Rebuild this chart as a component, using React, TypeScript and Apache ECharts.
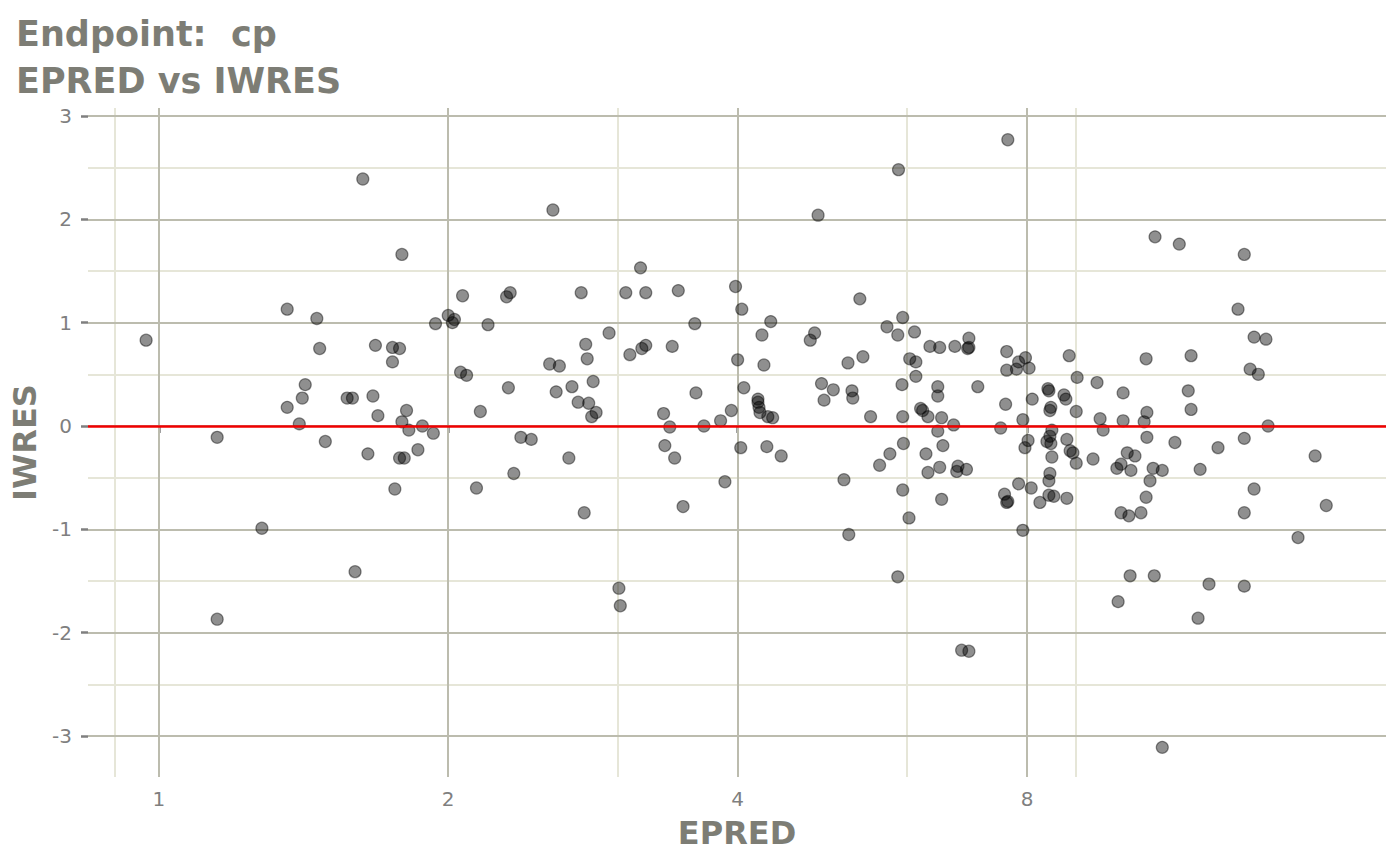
import React, { useEffect, useRef } from 'react'
import * as echarts from 'echarts'

// EPRED (log2 x axis) and IWRES, point by point
const epred = [
  0.97, 1.15, 1.15, 1.28, 1.36, 1.36, 1.4, 1.41, 1.42, 1.46, 1.47, 1.49, 1.57, 1.59, 1.6, 1.63,
  1.65, 1.67, 1.68, 1.69, 1.75, 1.75, 1.76, 1.78, 1.78, 1.79, 1.79, 1.8, 1.81, 1.82, 1.86, 1.88,
  1.93, 1.94, 2.0, 2.03, 2.02, 2.06, 2.07, 2.09, 2.14, 2.16, 2.2, 2.3, 2.31, 2.32, 2.34, 2.38,
  2.44, 2.55, 2.57, 2.59, 2.61, 2.67, 2.69, 2.73, 2.75, 2.77, 2.78, 2.79, 2.8, 2.82, 2.83, 2.85,
  3.17, 3.06, 3.21, 3.47, 3.98, 5.36, 4.04, 3.61, 4.33, 2.94, 4.24, 4.81, 4.76, 3.09, 3.18, 3.21,
  3.42, 4.0, 4.26, 5.21, 4.89, 5.03, 5.26, 5.27, 4.92, 4.06, 3.62, 4.2, 4.2, 4.21, 4.22, 4.3,
  4.35, 3.94, 3.84, 3.69, 3.35, 3.4, 3.36, 3.44, 4.03, 4.29, 4.44, 3.88, 3.51, 5.16,
  3.01, 3.02, 4.85, 5.22, 5.87, 5.88, 6.84, 6.96, 7.64,
  5.94, 5.72, 5.87, 6.11, 5.4, 6.34, 6.49, 6.73, 6.96, 6.94, 6.96, 7.62, 7.97, 7.84, 7.8, 7.62,
  8.04, 8.85, 6.04, 6.13, 6.13, 5.93, 6.46, 6.46, 7.11, 9.02, 9.46, 8.41, 8.43, 8.74, 8.78, 8.1,
  7.6, 8.47, 8.45, 9.0, 6.2, 6.23, 6.31, 6.52, 5.94, 5.5, 6.71, 7.51, 7.92, 8.49, 8.45, 8.39,
  8.47, 8.02, 7.96, 8.8, 6.46, 6.54, 5.95, 5.76, 6.28, 8.87, 8.93, 8.49, 9.0, 9.37, 5.62, 6.49,
  6.78, 6.76, 6.92, 6.31, 8.45, 8.43, 7.84, 8.08, 8.43, 8.53, 8.25, 8.8, 7.58, 7.62, 7.64, 5.94,
  6.52, 6.03, 7.92,
  10.64, 11.85, 10.07, 11.77, 10.66, 11.85, 9.53, 10.07, 10.59, 9.6, 10.66, 11.4, 12.64, 10.17,
  10.36, 10.02, 9.92, 10.26, 10.82, 11.06, 12.11, 10.74, 10.64, 10.02, 10.21, 10.51,
  9.95, 10.24, 10.85, 10.87, 11.06, 11.52, 12.05, 12.37, 13.26, 13.46, 13.46, 13.46, 13.46,
  13.65, 13.78, 13.78, 13.92, 14.18, 14.25, 15.31, 15.95, 16.38,
]

const iwres = [
  0.83, -0.11, -1.87, -0.99, 1.13, 0.18, 0.02, 0.27, 0.4, 1.04, 0.75, -0.15, 0.27, 0.27, -1.41, 2.39,
  -0.27, 0.29, 0.78, 0.1, 0.76, 0.62, -0.61, 0.75, -0.31, 1.66, 0.04, -0.31, 0.15, -0.04, -0.23, 0.0,
  -0.07, 0.99, 1.07, 1.03, 1.0, 0.52, 1.26, 0.49, -0.6, 0.14, 0.98, 1.25, 0.37, 1.29, -0.46, -0.11,
  -0.13, 0.6, 2.09, 0.33, 0.58, -0.31, 0.38, 0.23, 1.29, -0.84, 0.79, 0.65, 0.22, 0.09, 0.43, 0.13,
  1.53, 1.29, 1.29, 1.31, 1.35, 1.23, 1.13, 0.99, 1.01, 0.9, 0.88, 0.9, 0.83, 0.69, 0.75, 0.78,
  0.77, 0.64, 0.59, 0.61, 0.41, 0.35, 0.34, 0.27, 0.25, 0.37, 0.32, 0.26, 0.23, 0.18, 0.13, 0.09,
  0.08, 0.15, 0.05, 0.0, 0.12, -0.01, -0.19, -0.31, -0.21, -0.2, -0.29, -0.54, -0.78, -0.52,
  -1.57, -1.74, 2.04, -1.05, -1.46, 2.48, -2.17, -2.18, 2.77,
  1.05, 0.96, 0.88, 0.91, 0.67, 0.77, 0.76, 0.77, 0.85, 0.75, 0.76, 0.72, 0.66, 0.62, 0.55, 0.54,
  0.56, 0.68, 0.65, 0.62, 0.48, 0.4, 0.38, 0.29, 0.38, 0.47, 0.42, 0.36, 0.34, 0.3, 0.26, 0.26,
  0.21, 0.18, 0.15, 0.14, 0.17, 0.15, 0.09, 0.08, 0.09, 0.09, 0.01, -0.02, 0.06, -0.04, -0.1, -0.15,
  -0.17, -0.14, -0.21, -0.13, -0.05, -0.19, -0.17, -0.27, -0.27, -0.24, -0.26, -0.3, -0.36, -0.32, -0.38, -0.4,
  -0.39, -0.44, -0.42, -0.45, -0.46, -0.53, -0.56, -0.6, -0.67, -0.68, -0.74, -0.7, -0.66, -0.74, -0.73, -0.62,
  -0.71, -0.89, -1.01,
  0.65, 0.68, 0.32, 0.34, 0.13, 0.16, 0.07, 0.05, 0.04, -0.04, -0.11, -0.16, -0.21, -0.26,
  -0.29, -0.37, -0.41, -0.43, -0.41, -0.43, -0.42, -0.53, -0.69, -0.84, -0.87, -0.84,
  -1.7, -1.45, -1.45, 1.83, -3.11, 1.76, -1.86, -1.53, 1.13, 1.66, -0.12, -0.84, -1.55,
  0.55, 0.86, -0.61, 0.5, 0.84, 0.0, -1.08, -0.29, -0.77,
]

const xTicks = [1, 2, 4, 8]
const xMinor = [0.9, 3, 6, 9]
const yTicks = [-3, -2, -1, 0, 1, 2, 3]
const yMinor = [-2.5, -1.5, -0.5, 0.5, 1.5, 2.5]

const FONT = 'DejaVu Sans'
const TEXT = '#7d7d75'
const MAJOR = '#bcbcae'
const MINOR = '#e6e6d8'

const App: React.FC = () => {
  const containerRef = useRef<HTMLDivElement>(null)

  useEffect(() => {
    if (!containerRef.current) return
    const chart = echarts.init(containerRef.current, undefined, { renderer: 'svg' })

    const gridLine = (key: 'xAxis' | 'yAxis', v: number, color: string) => ({
      [key]: v,
      lineStyle: { color, width: 2, type: 'solid' },
    })

    const option: echarts.EChartsOption = {
      animation: false,
      backgroundColor: '#ffffff',
      title: {
        text: 'Endpoint:  cp\nEPRED vs IWRES',
        left: 16,
        top: 10,
        padding: 0,
        textStyle: { fontFamily: FONT, fontSize: 35, fontWeight: 'bold', color: TEXT, lineHeight: 47 },
      },
      grid: { left: 88, right: 14, top: 108, bottom: 88 },
      xAxis: {
        type: 'log',
        logBase: 2,
        min: 0.844,
        max: 18.9,
        name: 'EPRED',
        nameLocation: 'middle',
        nameGap: 40,
        nameTextStyle: { fontFamily: FONT, fontSize: 32, fontWeight: 'bold', color: TEXT },
        axisLine: { show: false },
        axisTick: { show: true, length: 7, customValues: xTicks, lineStyle: { color: '#7f7f7f', width: 2.5 } },
        axisLabel: { customValues: xTicks, fontFamily: FONT, fontSize: 20, color: '#7f7f7f', margin: 12 },
        splitLine: { show: false },
        minorSplitLine: { show: false },
      },
      yAxis: {
        type: 'value',
        min: -3.397,
        max: 3.077,
        name: 'IWRES',
        nameLocation: 'middle',
        nameRotate: 90,
        nameGap: 38,
        nameTextStyle: { fontFamily: FONT, fontSize: 32, fontWeight: 'bold', color: TEXT },
        axisLine: { show: false },
        axisTick: { show: true, length: 7, customValues: yTicks, lineStyle: { color: '#7f7f7f', width: 2.5 } },
        axisLabel: { customValues: yTicks, fontFamily: FONT, fontSize: 20, color: '#7f7f7f', margin: 16 },
        splitLine: { show: false },
      },
      series: [
        {
          // background grid, drawn under the points
          type: 'scatter',
          data: [],
          silent: true,
          z: 1,
          markLine: {
            silent: true,
            z: 1,
            symbol: ['none', 'none'],
            label: { show: false },
            data: [
              ...yMinor.map(v => gridLine('yAxis', v, MINOR)),
              ...xMinor.map(v => gridLine('xAxis', v, MINOR)),
              ...yTicks.map(v => gridLine('yAxis', v, MAJOR)),
              ...xTicks.map(v => gridLine('xAxis', v, MAJOR)),
            ] as any,
          },
        },
        {
          type: 'scatter',
          z: 3,
          symbolSize: 12,
          itemStyle: { color: 'rgba(0,0,0,0.55)', borderColor: 'rgba(0,0,0,0.55)', borderWidth: 1.2 },
          data: epred.map((x, i) => [x, iwres[i]]),
          markLine: {
            silent: true,
            z: 5,
            symbol: ['none', 'none'],
            label: { show: false },
            lineStyle: { color: '#f00000', width: 2.5, type: 'solid' },
            data: [{ yAxis: 0 }],
          },
        },
      ],
    }

    chart.setOption(option)
    return () => chart.dispose()
  }, [])

  return (
    <div
      ref={containerRef}
      style={{ position: 'absolute', left: 0, top: 0, width: 1400, height: 865 }}
    />
  )
}

export default App
